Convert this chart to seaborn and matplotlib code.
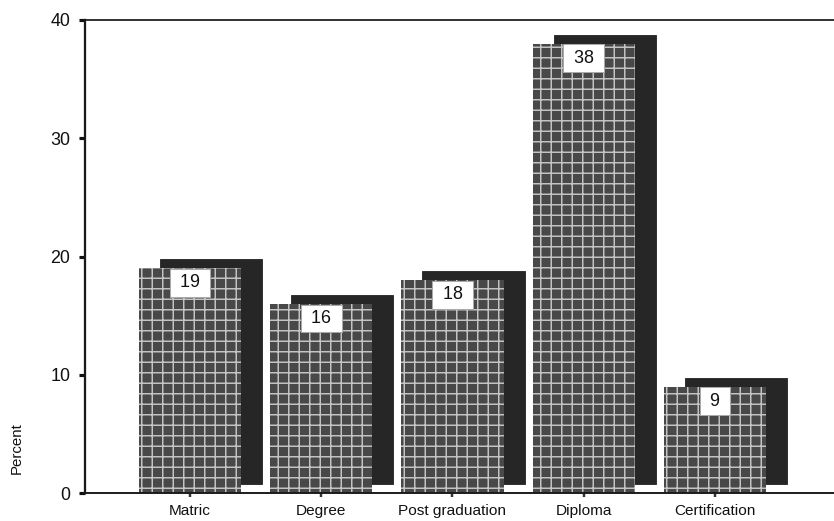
import matplotlib
matplotlib.use("Agg")
import matplotlib.pyplot as plt
import matplotlib.transforms as mtransforms
import seaborn as sns

# Qualification levels and their share of respondents (%)
categories = ["Matric", "Degree", "Post graduation", "Diploma", "Certification"]
percent = [19, 16, 18, 38, 9]
value_labels = ["19", "16", "18", "38", "9"]
y_ticks = [0, 10, 20, 30, 40]

DPI = 126
W, H = 834, 521

sns.set_style("white")
plt.rcParams["font.family"] = ["Liberation Sans", "DejaVu Sans"]
plt.rcParams["hatch.linewidth"] = 0.85

fig = plt.figure(figsize=(W / DPI, H / DPI), dpi=DPI)
ax = fig.add_axes([85 / W, 28 / H, 1 - 85 / W, (493 - 20) / H])

bar_width = 0.78
grid_color = "#c4c4c4"

# Drop shadow behind each bar, shifted right and up
sns.barplot(x=categories, y=percent, color="#262626", saturation=1,
            width=bar_width, edgecolor="#262626", linewidth=0.5, ax=ax)
shadow_shift = mtransforms.ScaledTranslation(21 / DPI, 9 / DPI, fig.dpi_scale_trans)
for p in list(ax.patches):
    p.set_transform(ax.transData + shadow_shift)

n_shadow = len(ax.patches)

# Front bars with a light grid pattern (hatch takes the edge colour)
sns.barplot(x=categories, y=percent, color="#484848", saturation=1,
            width=bar_width, edgecolor=grid_color, linewidth=0,
            hatch="++", ax=ax)

# Value labels in white boxes near the top of each bar
for i, (v, lab) in enumerate(zip(percent, value_labels)):
    ax.annotate(f" {lab} ", xy=(i, v), xytext=(0, -3.5), textcoords="offset points",
                ha="center", va="top", fontsize=10.2, color="#111111",
                bbox=dict(boxstyle="square,pad=0.3", facecolor="white",
                          edgecolor="#aaaaaa", linewidth=0.6),
                zorder=5)

ax.set_xlim(-0.8, 4.907)
ax.set_ylim(0, 40)
ax.set_yticks(y_ticks)
ax.set_yticklabels([str(t) for t in y_ticks])

ax.tick_params(axis="y", direction="out", length=3.5, width=1.8,
               color="#111111", labelsize=10.2, pad=5, left=True)
ax.tick_params(axis="x", direction="out", length=2.5, width=1.4,
               color="#333333", labelsize=8.8, pad=4, bottom=True)
for lab in ax.get_xticklabels() + ax.get_yticklabels():
    lab.set_color("#111111")

for side in ["left", "top", "bottom"]:
    ax.spines[side].set_visible(True)
    ax.spines[side].set_color("#1a1a1a")
ax.spines["left"].set_linewidth(1.3)
ax.spines["top"].set_linewidth(1.0)
ax.spines["bottom"].set_linewidth(1.1)
ax.spines["right"].set_visible(False)

ax.set_xlabel("")
ax.set_ylabel("Percent", fontsize=8.6, color="#111111")
ax.yaxis.set_label_coords(-0.082, 0.095)

fig.savefig("out.png", dpi=DPI, facecolor="white")
